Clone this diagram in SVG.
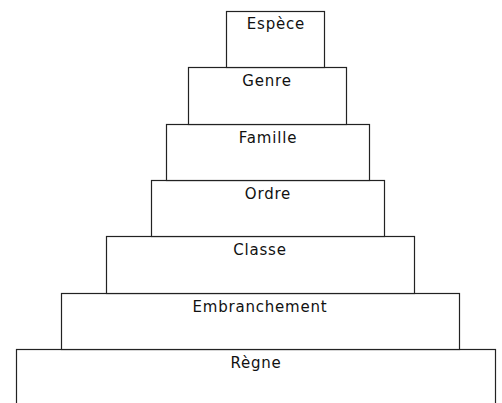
<svg xmlns="http://www.w3.org/2000/svg" width="502" height="403" viewBox="0 0 502 403">
<style>
rect{fill:#fff;stroke:#222;stroke-width:1.2}
text{font-family:"DejaVu Sans",Verdana,sans-serif;font-size:15px;letter-spacing:0.8px;fill:#111;text-anchor:middle}
</style>
<rect x="0" y="0" width="502" height="403" style="stroke:none"/>
<g id="regne"><rect x="16.5" y="349.5" width="479" height="70"/><text x="256" y="368">Règne</text></g>
<g id="embranchement"><rect x="61.5" y="293.5" width="398" height="56"/><text x="260" y="312">Embranchement</text></g>
<g id="classe"><rect x="106.5" y="236.5" width="308" height="57"/><text x="260" y="255">Classe</text></g>
<g id="ordre"><rect x="151.5" y="180.5" width="233" height="56"/><text x="268" y="199">Ordre</text></g>
<g id="famille"><rect x="166.5" y="124.5" width="203" height="56"/><text x="268" y="143">Famille</text></g>
<g id="genre"><rect x="188.5" y="67.5" width="158" height="57"/><text x="267" y="86">Genre</text></g>
<g id="espece"><rect x="226.5" y="11.5" width="98" height="56"/><text x="276" y="29">Espèce</text></g>
<g id="connectors"></g>
</svg>
